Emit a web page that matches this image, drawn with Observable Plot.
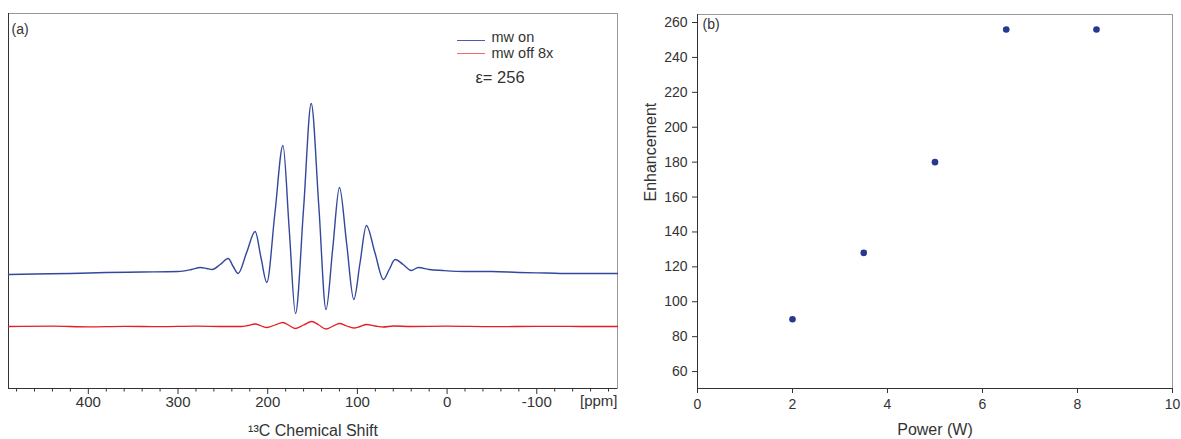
<!DOCTYPE html>
<html>
<head>
<meta charset="utf-8">
<script src="https://cdn.jsdelivr.net/npm/d3@7"></script>
<script src="https://cdn.jsdelivr.net/npm/@observablehq/plot@0.6"></script>
<style>
  html, body { margin: 0; padding: 0; background: #fff; }
  #wrap { position: relative; width: 1181px; height: 439px; overflow: hidden; font-family: "Liberation Sans", Arial, Helvetica, sans-serif; }
  #pa { position: absolute; left: 0; top: 0; }
  #pb { position: absolute; left: 620px; top: 0; }
  .legline { position: absolute; height: 1.3px; width: 28px; }
</style>
</head>
<body>
<div id="wrap">
  <div id="pa"></div>
  <div id="pb"></div>
  <div class="legline" style="left:457px;top:40px;background:#4a5cb0;"></div>
  <div class="legline" style="left:457px;top:53px;background:#ef6a6a;"></div>
</div>
<script>
// ---------- Panel (a): 13C spectrum ----------
const ppmDomain = [489, -190];
const ppmTicksMajor = [400, 300, 200, 100, 0, -100];
const ppmTicksMinor = [480, 460, 440, 420, 380, 360, 340, 320, 280, 260, 240, 220, 180, 160, 140, 120, 80, 60, 40, 20, -20, -40, -60, -80, -120, -140, -160, -180];
const intensityDomain = [-115, 260];

// mw on (blue), intensity in arbitrary units, baseline 0
const blueShift = [489, 460, 420, 380, 340, 300, 285, 275, 268, 262, 253, 244, 238.5, 233, 223.5, 214, 207.5, 201, 192, 183, 176, 169, 160, 151.5, 143, 135, 127.5, 120, 112, 104, 97, 90, 80.5, 71, 64.5, 58, 49, 40, 32, 20, 5, -20, -50, -80, -110, -140, -170, -190];
const blueIntensity = [-1, -0.5, 0, 1, 1.5, 2, 4, 6, 5, 4, 9, 15, 7, 0, 21, 42, 16, -9, 60, 128, 44, -40, 65, 170, 67, -36, 25, 86, 30, -26, 11, 48, 21, -6, 4, 14, 9, 3, 6, 4, 3, 2, 2, 1, 0.5, 0, 0, 0];

// mw off 8x (red), relative to its own baseline
const redShift = [489, 440, 400, 360, 320, 280, 250, 230, 222, 214, 207, 201, 192, 183, 176, 169, 160, 151, 143, 135, 127, 120, 112, 104, 97, 90, 80, 71, 60, 40, 0, -50, -100, -150, -190];
const redIntensity = [0, 0.3, -0.3, 0.2, -0.2, 0.3, 0, 0, 1, 2.5, 0.5, -1, 1.5, 4, 1, -2, 1.5, 5, 1.5, -2.5, 0.5, 3, 0.5, -1.5, 0, 2, 0.5, -0.5, 0.5, 0, 0.3, -0.2, 0.2, 0, 0];
const redOffset = -53;

const seriesLabels = ["mw on", "mw off 8x"];
const enhancementNote = "ε= 256";

// ---------- Panel (b): enhancement vs power ----------
const power = [2, 3.5, 5, 6.5, 8.4];
const enhancement = [90, 128, 180, 256, 256];
const powerTicks = [0, 2, 4, 6, 8, 10];
const enhTicks = [60, 80, 100, 120, 140, 160, 180, 200, 220, 240, 260];
const powerDomain = [0, 10];
const enhDomain = [50.3, 264.6];

const FONT = '"Liberation Sans", Arial, Helvetica, sans-serif';
const INK = "#333";

const blue = blueShift.map((x, i) => ({ppm: x, v: blueIntensity[i]}));
const red = redShift.map((x, i) => ({ppm: x, v: redIntensity[i] + redOffset}));

const plotA = Plot.plot({
  width: 620, height: 439,
  marginTop: 13, marginRight: 3, marginBottom: 51, marginLeft: 8,
  style: {fontFamily: FONT, fontSize: "15px", color: INK, background: "transparent", overflow: "visible"},
  x: {domain: ppmDomain, label: null},
  y: {domain: intensityDomain, axis: null},
  marks: [
    Plot.frame({stroke: "#999"}),
    Plot.ruleX([ppmDomain[0]], {stroke: INK}),
    Plot.ruleY([intensityDomain[0]], {stroke: INK}),
    Plot.axisX({ticks: ppmTicksMinor, tickSize: 3.5, tickFormat: () => "", label: null}),
    Plot.axisX({ticks: ppmTicksMajor, tickSize: 6, tickPadding: 2, tickFormat: d => String(d), fontSize: 15, label: null}),
    Plot.line(red, {x: "ppm", y: "v", stroke: "#e31e24", strokeWidth: 1.3, curve: "monotone-x"}),
    Plot.line(blue, {x: "ppm", y: "v", stroke: "#33479c", strokeWidth: 1.4, curve: "monotone-x"}),
    Plot.text(["(a)"], {text: d => d, frameAnchor: "top-left", dx: 3, dy: 16, textAnchor: "start", lineAnchor: "middle", fontSize: 14}),
    Plot.text(["[ppm]"], {text: d => d, frameAnchor: "bottom-right", dx: 0, dy: 13, textAnchor: "end", lineAnchor: "middle", fontSize: 15}),
    Plot.text(["¹³C Chemical Shift"], {text: d => d, frameAnchor: "bottom", dy: 42, lineAnchor: "middle", fontSize: 16}),
    Plot.text([seriesLabels[0]], {text: d => d, frameAnchor: "top-left", dx: 483, dy: 24, textAnchor: "start", lineAnchor: "middle", fontSize: 14.5}),
    Plot.text([seriesLabels[1]], {text: d => d, frameAnchor: "top-left", dx: 483, dy: 40, textAnchor: "start", lineAnchor: "middle", fontSize: 14.5}),
    Plot.text([enhancementNote], {text: d => d, frameAnchor: "top-left", dx: 467, dy: 64, textAnchor: "start", lineAnchor: "middle", fontSize: 16.5})
  ]
});
document.getElementById("pa").appendChild(plotA);

const pts = power.map((p, i) => ({p, e: enhancement[i]}));
const plotB = Plot.plot({
  width: 561, height: 439,
  marginTop: 14, marginRight: 9, marginBottom: 51, marginLeft: 77,
  style: {fontFamily: FONT, fontSize: "14px", color: INK, background: "transparent", overflow: "visible"},
  x: {domain: powerDomain, label: null},
  y: {domain: enhDomain, label: null},
  marks: [
    Plot.frame({stroke: "#999"}),
    Plot.ruleX([powerDomain[0]], {stroke: INK}),
    Plot.ruleY([enhDomain[0]], {stroke: INK}),
    Plot.axisX({ticks: powerTicks, tickSize: 5, tickPadding: 6, fontSize: 14, label: null}),
    Plot.axisY({ticks: enhTicks, tickSize: 5, tickPadding: 5, fontSize: 14, label: null}),
    Plot.dot(pts, {x: "p", y: "e", r: 3.3, fill: "#27398f", stroke: null}),
    Plot.text(["(b)"], {text: d => d, frameAnchor: "top-left", dx: 5, dy: 10, textAnchor: "start", lineAnchor: "middle", fontSize: 14}),
    Plot.text(["Power (W)"], {text: d => d, frameAnchor: "bottom", dy: 41, lineAnchor: "middle", fontSize: 16}),
    Plot.text(["Enhancement"], {text: d => d, frameAnchor: "left", dx: -47, rotate: -90, lineAnchor: "middle", fontSize: 16})
  ]
});
document.getElementById("pb").appendChild(plotB);
</script>
</body>
</html>
